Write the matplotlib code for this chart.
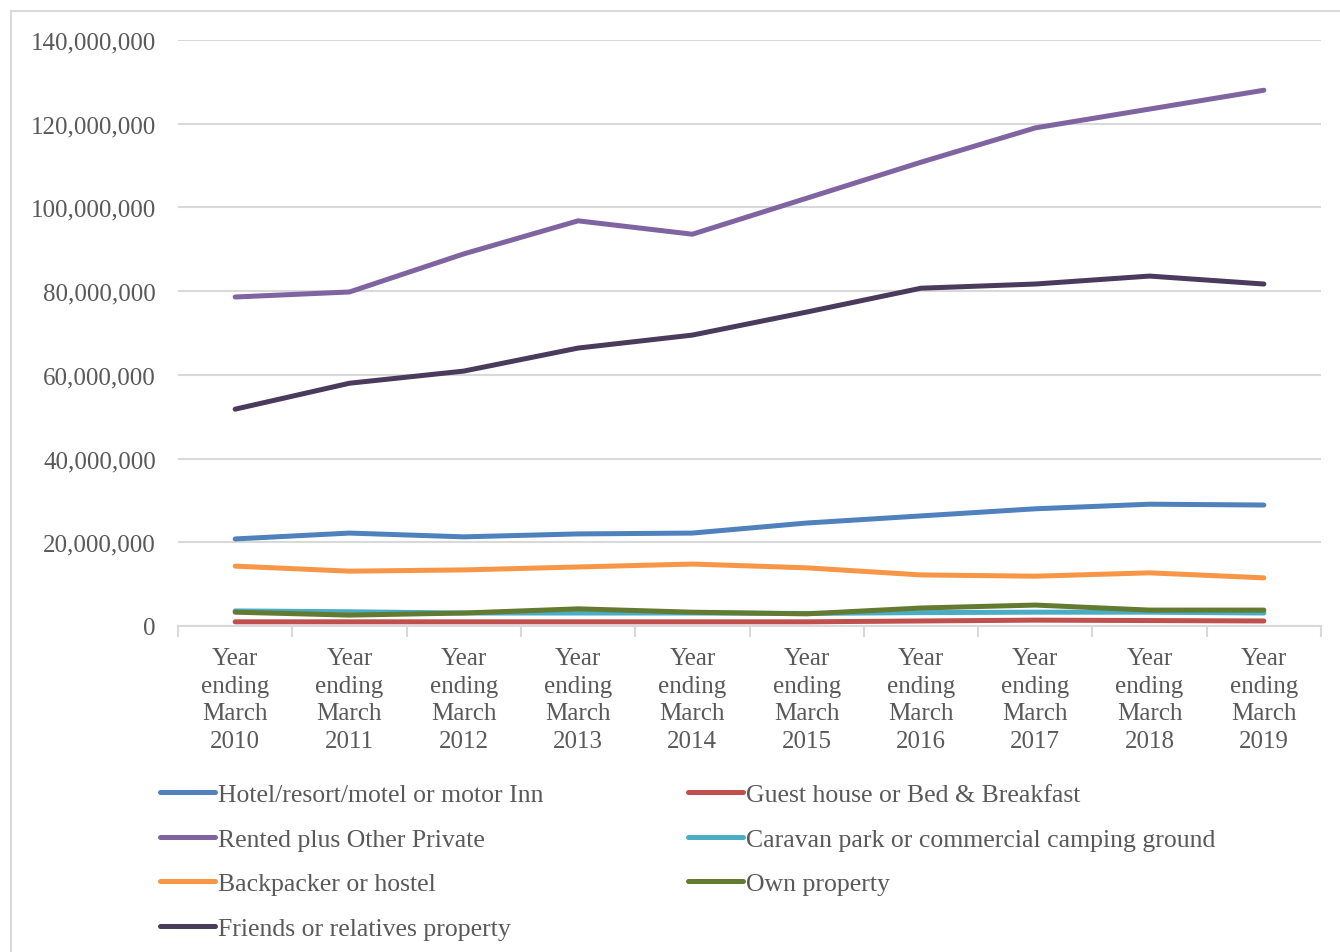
import numpy as np
import matplotlib
matplotlib.use("Agg")
import matplotlib.pyplot as plt
from matplotlib.lines import Line2D
from matplotlib.ticker import FuncFormatter, FixedLocator

plt.rcParams['font.family'] = ['Liberation Serif', 'DejaVu Serif']

years = ["2010", "2011", "2012", "2013", "2014", "2015", "2016", "2017", "2018", "2019"]
categories = ["Year\nending\nMarch\n" + y for y in years]

hotel = [20.8, 22.2, 21.3, 22.0, 22.2, 24.6, 26.3, 28.0, 29.1, 28.9]
guest_house = [1.0, 1.0, 1.0, 1.0, 1.0, 1.0, 1.2, 1.4, 1.3, 1.2]
rented = [78.6, 79.8, 88.9, 96.8, 93.6, 102.2, 110.8, 119.0, 123.5, 128.0]
caravan = [3.6, 3.4, 3.1, 3.1, 3.1, 3.0, 3.2, 3.3, 3.3, 3.1]
backpacker = [14.3, 13.1, 13.4, 14.1, 14.8, 13.9, 12.2, 11.9, 12.7, 11.5]
own_property = [3.3, 2.6, 3.1, 4.1, 3.3, 2.9, 4.3, 5.0, 3.8, 3.8]
friends = [51.8, 58.0, 60.9, 66.4, 69.5, 75.0, 80.7, 81.7, 83.6, 81.7]

series = [
    ("Hotel/resort/motel or motor Inn", hotel, "#4F81BD"),
    ("Guest house or Bed & Breakfast", guest_house, "#C0504D"),
    ("Rented plus Other Private", rented, "#8064A2"),
    ("Caravan park or commercial camping ground", caravan, "#4BACC6"),
    ("Backpacker or hostel", backpacker, "#F79646"),
    ("Own property", own_property, "#637A31"),
    ("Friends or relatives property", friends, "#4A3B5C"),
]

W, H = 1340, 953
fig = plt.figure(figsize=(W / 100, H / 100), dpi=100)
ax = fig.add_axes([178 / W, 1 - 627 / H, (1321 - 178) / W, (627 - 41) / H])

x = np.arange(len(years))
handles = {}
for name, vals, col in series:
    ln, = ax.plot(x, np.array(vals) * 1e6, color=col, lw=3.6,
                  solid_capstyle='round', solid_joinstyle='round', label=name)
    handles[name] = ln

ax.set_xlim(-0.5, len(years) - 0.5)
ax.set_ylim(0, 140e6)
ax.set_yticks(np.arange(0, 140e6 + 1, 20e6))
ax.yaxis.set_major_formatter(FuncFormatter(lambda v, p: f"{int(v):,}"))
ax.grid(axis='y', color='#D9D9D9', lw=1.5)
ax.set_axisbelow(True)

ax.set_xticks(x)
ax.set_xticklabels(categories, linespacing=1.34)
ax.xaxis.set_minor_locator(FixedLocator(np.arange(-0.5, len(years), 1.0)))
ax.tick_params(axis='x', which='major', length=0, pad=15, labelsize=18, colors='#595959')
ax.tick_params(axis='x', which='minor', length=8, width=1.5, color='#D9D9D9')
ax.tick_params(axis='y', length=0, pad=16, labelsize=18, colors='#595959')

for s in ['left', 'right', 'top']:
    ax.spines[s].set_visible(False)
ax.spines['bottom'].set_color('#D9D9D9')
ax.spines['bottom'].set_linewidth(1.5)

# legend, row-major order as two columns
col1 = ["Hotel/resort/motel or motor Inn", "Rented plus Other Private",
        "Backpacker or hostel", "Friends or relatives property"]
col2 = ["Guest house or Bed & Breakfast", "Caravan park or commercial camping ground",
        "Own property"]
leg_kw = dict(frameon=False, fontsize=18.5, handlelength=2.15, handletextpad=0.12,
              labelspacing=0.84, borderpad=0, borderaxespad=0, labelcolor='#595959')
leg1 = fig.legend([handles[n] for n in col1], col1, loc='upper left',
                  bbox_to_anchor=(160 / W, 1 - 784 / H), **leg_kw)
leg2 = fig.legend([handles[n] for n in col2], col2, loc='upper left',
                  bbox_to_anchor=(688 / W, 1 - 784 / H), **leg_kw)

# chart area border (cut off at right/bottom)
fig.add_artist(Line2D([11 / W, 11 / W], [0, 1 - 12 / H], color='#D9D9D9', lw=1.5))
fig.add_artist(Line2D([11 / W, 1], [1 - 12 / H, 1 - 12 / H], color='#D9D9D9', lw=1.5))

fig.savefig("out.png", dpi=100)
